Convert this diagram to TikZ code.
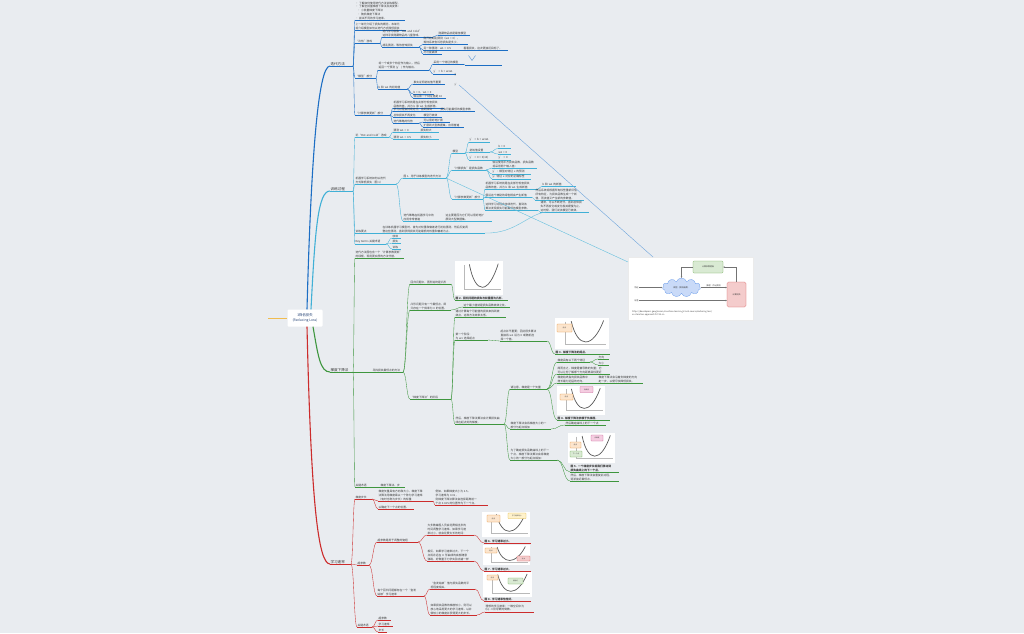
\documentclass[tikz,border=0pt]{standalone}
\usepackage{fontspec}
\setmainfont{Noto Sans CJK SC}
\newfontfamily\dejavu{DejaVu Sans}
\XeTeXlinebreaklocale "zh"
\XeTeXlinebreakskip=0pt plus 0.5pt
\usetikzlibrary{calc,shapes.symbols,arrows.meta}
\definecolor{bgc}{RGB}{233,236,240}
\definecolor{txt}{RGB}{55,55,55}
\definecolor{cb}{RGB}{28,110,196}
\definecolor{ct}{RGB}{64,176,214}
\definecolor{cg}{RGB}{62,150,62}
\definecolor{cr}{RGB}{204,44,44}
\definecolor{co}{RGB}{240,188,80}
\definecolor{rootc}{RGB}{40,70,120}
\definecolor{relb}{RGB}{110,165,220}
\definecolor{orF}{RGB}{252,229,205}\definecolor{orD}{RGB}{230,145,56}
\definecolor{pkF}{RGB}{245,205,225}\definecolor{pkD}{RGB}{200,100,150}
\definecolor{gnF}{RGB}{217,234,211}\definecolor{gnD}{RGB}{106,168,79}
\definecolor{ylF}{RGB}{255,242,204}\definecolor{ylD}{RGB}{220,180,60}
\definecolor{rdF}{RGB}{244,204,204}\definecolor{rdD}{RGB}{214,90,90}
\definecolor{clF}{RGB}{201,218,248}\definecolor{clD}{RGB}{109,158,235}
\tikzset{
 mm/.style={anchor=south west, inner xsep=0.3pt, inner ysep=0.5pt, align=left,
   font=\fontsize{2.75}{3.75}\selectfont, text=txt},
 ul/.style={line width=.35pt},
 cn/.style={line width=.35pt},
 mainline/.style={line width=1.1pt},
 labul/.style={line width=.8pt},
 rel/.style={line width=.4pt},
 tagO/.style={fill=orF, draw=orD, line width=.2pt, rounded corners=.4pt},
 tagP/.style={fill=pkF, draw=pkD, line width=.2pt, rounded corners=.4pt},
 tagG/.style={fill=gnF, draw=gnD, line width=.2pt, rounded corners=.4pt},
 tagY/.style={fill=ylF, draw=ylD, line width=.2pt, rounded corners=.4pt},
 tagR/.style={fill=rdF, draw=rdD, line width=.2pt, rounded corners=.4pt},
 imgarrow/.style={draw=black!55, line width=.35pt, -{Stealth[length=1.6pt,width=1.4pt]}},
 imgtxt/.style={font=\fontsize{2}{2.4}\selectfont, text=txt, inner sep=0.3pt},
}
\newcommand\labfont{\fontsize{3.6}{4.2}\selectfont}
\newcommand\mmnode[6]{\node[mm, text width=#5pt] (#1) at (#3,#4) {#6};
  \draw[ul, #2] (#1.south west) -- (#1.south east);}
\newcommand\mmlabel[6]{\node[mm, text width=#5pt, font=\labfont] (#1) at (#3,#4) {#6};
  \draw[labul, #2] (#1.south west) -- (#1.south east);}
\newcommand\mmlink[3]{\draw[cn, #1] let \p1=(#2.south east), \p2=(#3.south west), \n1={0.5*(\x2-\x1)} in (\p1) .. controls +(\n1,0) and +(-\n1,0) .. (\p2);}
\newcommand\lossplot[4]{%
 \begin{scope}[shift={(#1,#2)}]
  \fill[white] (0,0) rectangle (#3,#4);
  \draw[gray!55,line width=.2pt] (0.18*#3,0.12*#4) -- (0.18*#3,0.84*#4) -- (0.95*#3,0.84*#4);
  \draw[black!65,line width=.7pt] (0.3*#3,0.1*#4) .. controls (0.42*#3,1.0*#4) and (0.7*#3,1.0*#4) .. (0.9*#3,0.08*#4);
 \end{scope}}
\newcommand\tagbox[6]{\draw[#5] (#1,#2) rectangle (#3,#4);
  \node[font=\fontsize{1.6}{2}\selectfont, text=txt, inner sep=0] at ({(#1+#3)/2},{(#2+#4)/2}) {#6};}
\begin{document}
\begin{tikzpicture}[x=1pt,y=-1pt]
\useasboundingbox (0,0) rectangle (1024,633);
\fill[bgc] (0,0) rectangle (1024,633);

% ---------- root ----------
\node[fill=white, rounded corners=1pt, minimum width=35pt, minimum height=17pt, align=center,
  font=\fontsize{3.4}{4.6}\selectfont, text=rootc, inner sep=0.5pt] (root) at (305,318) {3降低损失\\(Reducing Loss)};
\coordinate (rp) at (268,318);
\draw[co, line width=1pt] (rp) -- (root.west);

% ---------- main labels ----------
\mmlabel{bl}{cb}{330}{66}{22}{迭代方法}
\mmlabel{tl}{ct}{330}{191}{22}{训练过程}
\mmlabel{gl}{cg}{330}{372}{22}{梯度下降法}
\mmlabel{rl}{cr}{330}{564}{20}{学习速率}
\draw[mainline, cb] ([xshift=2pt]root.north) .. controls (311,160) and (318,66) .. (bl.south west);
\draw[mainline, ct] ([xshift=6pt]root.north) .. controls (315,230) and (318,191) .. (tl.south west);
\draw[mainline, cg] ([xshift=8pt]root.south) .. controls (318,355) and (320,372) .. (gl.south west);
\draw[mainline, cr] ([xshift=2pt]root.south) .. controls (311,500) and (318,564) .. (rl.south west);

% ---------- BLUE ----------
\mmnode{b1}{cb}{355}{20}{49}{• 了解如何使用迭代方法训练模型。\\• 了解全批量梯度下降法及其变体：\\\hspace{2pt}• 小批量梯度下降法\\\hspace{2pt}• 随机梯度下降法\\• 尝试不同的学习速率。}
\mmnode{b2}{cb}{355}{30}{50}{上一单元介绍了损失的概念，本单元\\将介绍模型如何以迭代方式降低损失}
\mmnode{b3}{cb}{355}{43}{24}{“冷热”游戏}
\mmnode{b3a}{cb}{382}{37}{50}{迭代学习就像“Hot and Cold”\\这种寻找隐藏物品的儿童游戏。}
\mmnode{b3a1}{cb}{438}{35}{31}{隐藏物品就是最佳模型}
\mmnode{b3b}{cb}{382}{47}{36}{胡乱猜测，等待告知损失}
\mmnode{b3b1}{cb}{423}{44}{44}{刚开始胡乱猜测（w1 = 0），\\等待系统告诉您损失是多少。}
\mmnode{b3b2}{cb}{423}{50}{34}{另一种猜测：w1 = 0.5}
\mmnode{b3b2a}{cb}{463}{50}{44}{看看损失，这次更接近目标了。}
\mmnode{b3b3}{cb}{423}{54}{18}{尽可能高效}
\mmnode{b4}{cb}{355}{78}{20}{“模型”部分}
\mmnode{b4a}{cb}{378}{70}{50}{将一个或多个特征作为输入，然后\\返回一个预测 (y') 作为输出。}
\mmnode{b4a1}{cb}{433}{64}{30}{采用一个特征的模型}
\mmnode{chev}{cb}{465}{65}{36}{}
\draw[cb!70, line width=.45pt] (468.5,55.5) -- (472,60.5) -- (475.5,55.5);
\mmnode{b4a2}{cb}{433}{74}{22}{y' = b + w1x1}
\node[mm, font=\dejavu\fontsize{2.6}{3}\selectfont] (yg1) at (454,77) {ŷ};
\node[mm, font=\fontsize{2.6}{3}\selectfont] (yg2) at (454,87) {y'};
\mmnode{b4b}{cb}{378}{89}{28}{b 和 w1 的初始值}
\mmnode{b4b1}{cb}{413}{84}{31}{事实证明初始值不重要}
\mmnode{b4b2}{cb}{413}{94}{20}{b = 0，w1 = 0}
\mmnode{b4b3}{cb}{413}{98}{32}{假设第一个特征值是 10}
\mmnode{b5}{cb}{355}{115}{34}{“计算参数更新”部分}
\mmnode{b5a}{cb}{393}{108}{50}{机器学习系统就是在此部分检查损失\\函数的值，并为 b 和 w1 生成新值。}
\mmnode{b5b}{cb}{393}{111}{44}{学习过程会持续迭代，直到找到}
\mmnode{b5b1}{cb}{440}{111}{34}{损失可能最低的模型参数}
\mmnode{b5c}{cb}{393}{117}{25}{总体损失不再变化}
\mmnode{b5c1}{cb}{423}{117}{18}{模型已收敛}
\mmnode{b5d}{cb}{393}{123}{25}{迭代策略的优势}
\mmnode{b5d1}{cb}{423}{122}{26}{可以很好地扩展}
\mmnode{b5d2}{cb}{423}{127}{40}{扩展到大型数据集，应用普遍}
\foreach \c in {b1,b2,b3,b4,b5} {\mmlink{cb}{bl}{\c}}
\mmlink{cb}{b3}{b3a}\mmlink{cb}{b3}{b3b}\mmlink{cb}{b3a}{b3a1}
\mmlink{cb}{b3b}{b3b1}\mmlink{cb}{b3b}{b3b2}\mmlink{cb}{b3b}{b3b3}\mmlink{cb}{b3b2}{b3b2a}
\mmlink{cb}{b4}{b4a}\mmlink{cb}{b4}{b4b}\mmlink{cb}{b4a}{b4a1}\mmlink{cb}{b4a}{b4a2}\mmlink{cb}{b4a1}{chev}
\mmlink{cb}{b4b}{b4b1}\mmlink{cb}{b4b}{b4b2}\mmlink{cb}{b4b}{b4b3}
\mmlink{cb}{b5}{b5a}\mmlink{cb}{b5}{b5b}\mmlink{cb}{b5}{b5c}\mmlink{cb}{b5}{b5d}
\mmlink{cb}{b5b}{b5b1}\mmlink{cb}{b5c}{b5c1}\mmlink{cb}{b5d}{b5d1}\mmlink{cb}{b5d}{b5d2}

% ---------- TEAL ----------
\mmnode{t1}{ct}{355}{137}{33}{玩“Hot and Cold”游戏}
\mmnode{t1a}{ct}{393}{132}{22}{猜测 w1 = 0}
\mmnode{t1a1}{ct}{420}{132}{18}{损失较大}
\mmnode{t1b}{ct}{393}{139}{22}{猜测 w1 = 0.5}
\mmnode{t1b1}{ct}{420}{139}{18}{损失较小}
\mmnode{t2}{ct}{355}{184}{40}{机器学习系统如何以迭代\\方式降低损失（图 1）}
\mmnode{t2a}{ct}{403}{178}{42}{图 1. 用于训练模型的迭代方法}
\mmnode{t2a1}{ct}{452}{153}{12}{模型}
\mmnode{t2a1a}{ct}{469}{142}{20}{y' = b + w1x1}
\mmnode{t2a1b}{ct}{469}{152}{20}{初始值设置}
\mmnode{t2a1b1}{ct}{498}{148.5}{12}{b = 0}
\mmnode{t2a1b2}{ct}{498}{154}{12}{w1 = 0}
\mmnode{t2a1c}{ct}{469}{160}{22}{y' = 0 + 0(10)}
\mmnode{t2a1c1}{ct}{498}{160}{12}{y' = 0}
\mmnode{t2a2}{ct}{452}{170}{33}{“计算损失”是损失函数}
\mmnode{t2a2a}{ct}{492}{168}{44}{假设使用平方损失函数，损失函数\\将采用两个输入值：}
\mmnode{t2a2b}{ct}{492}{174}{38}{y'：模型对特征 x 的预测}
\mmnode{t2a2c}{ct}{492}{179}{38}{y：特征 x 对应的正确标签}
\mmnode{t2a3}{ct}{452}{199}{30}{“计算参数更新”部分}
\mmnode{t2a3a}{ct}{485}{189}{52}{机器学习系统就是在此部分检查损失\\函数的值，并为 b 和 w1 生成新值}
\mmnode{t2a3a1}{ct}{542}{186}{33}{b 和 w1 的新值}
\mmnode{t2a3b}{ct}{485}{197}{46}{假设这个神秘的绿色框会产生新值}
\mmnode{t2a3b1}{ct}{535}{200}{48}{然后系统将根据所有标签重新评估\\所有特征，为损失函数生成一个新\\值，而该值又产生新的参数值。}
\mmnode{t2a3c}{ct}{485}{210}{52}{这种学习过程会持续迭代，直到该\\算法发现损失可能最低的模型参数。}
\mmnode{t2a3c1}{ct}{540}{212}{48}{通常，可以不断迭代，直到总体损\\失不再变化或变化极其缓慢为止。\\这时候，我们说该模型已收敛。}
\mmnode{t2b}{ct}{403}{221}{38}{迭代策略在机器学习中的\\应用非常普遍}
\mmnode{t2b1}{ct}{445}{221}{46}{这主要是因为它们可以很好地扩\\展到大型数据集。}
\mmnode{t3}{ct}{355}{233}{24}{训练要点}
\mmnode{t3a}{ct}{382}{233}{102}{在训练机器学习模型时，首先对权重和偏差进行初始猜测，然后反复调\\整这些猜测，直到获得损失可能最低的权重和偏差为止。}
\mmnode{t4}{ct}{355}{244}{30}{Key terms 关键术语}
\mmnode{t4a}{ct}{392}{238}{8}{收敛}
\mmnode{t4b}{ct}{392}{243.5}{8}{损失}
\mmnode{t4c}{ct}{392}{249}{8}{训练}
\foreach \c in {t1,t2,t3,t4} {\mmlink{ct}{tl}{\c}}
\mmlink{ct}{t1}{t1a}\mmlink{ct}{t1}{t1b}\mmlink{ct}{t1a}{t1a1}\mmlink{ct}{t1b}{t1b1}
\mmlink{ct}{t2}{t2a}\mmlink{ct}{t2}{t2b}\mmlink{ct}{t2b}{t2b1}
\mmlink{ct}{t2a}{t2a1}\mmlink{ct}{t2a}{t2a2}\mmlink{ct}{t2a}{t2a3}
\mmlink{ct}{t2a1}{t2a1a}\mmlink{ct}{t2a1}{t2a1b}\mmlink{ct}{t2a1}{t2a1c}
\mmlink{ct}{t2a1b}{t2a1b1}\mmlink{ct}{t2a1b}{t2a1b2}\mmlink{ct}{t2a1c}{t2a1c1}
\mmlink{ct}{t2a2}{t2a2a}\mmlink{ct}{t2a2}{t2a2b}\mmlink{ct}{t2a2}{t2a2c}
\mmlink{ct}{t2a3}{t2a3a}\mmlink{ct}{t2a3}{t2a3b}\mmlink{ct}{t2a3}{t2a3c}
\mmlink{ct}{t2a3a}{t2a3a1}\mmlink{ct}{t2a3b}{t2a3b1}\mmlink{ct}{t2a3c}{t2a3c1}
\mmlink{ct}{t3}{t3a}
\mmlink{ct}{t4}{t4a}\mmlink{ct}{t4}{t4b}\mmlink{ct}{t4}{t4c}

% ---------- GREEN ----------
\mmnode{g1}{cg}{355}{258}{48}{迭代方法图包含一个“计算参数更新”\\的绿框，现用更实质的方法代替。}
\mmnode{g2}{cg}{372}{372}{30}{寻找损失最低点的方法}
\mmnode{g2a}{cg}{410}{284}{40}{回归问题中，图形始终是凸形}
\lossplot{455}{261}{48}{34}
\mmnode{g2a1}{cg}{455}{300}{52}{\bfseries 图 2. 回归问题的损失与权重图为凸形。}
\mmnode{g2b}{cg}{410}{310}{40}{凸形问题只有一个最低点，即\\只存在一个斜率为 0 的位置。}
\mmnode{g2b1}{cg}{463}{307}{46}{这个最小值就是损失函数收敛之处。}
\mmnode{g2c}{cg}{410}{399}{40}{“梯度下降法”的阶段}
\mmnode{g2c1}{cg}{455}{317}{50}{通过计算每个可能值的损失来找到收\\敛点，这种方法效率太低。}
\mmnode{g2c2}{cg}{455}{340}{32}{第一个阶段：\\为 w1 选择起点}
\mmnode{g2c2a}{cg}{500}{341}{46}{起点并不重要；因此很多算法\\直接将 w1 设为 0 或随机选\\择一个值。}
\lossplot{555}{318}{54}{31}
\tagbox{557}{324}{572}{332}{tagO}{起点}
\mmnode{g2c2a1}{cg}{555}{354}{54}{\bfseries 图 3. 梯度下降法的起点。}
\mmnode{g2c3}{cg}{455}{424}{48}{然后，梯度下降法算法会计算损失曲\\线在起点处的梯度。}
\mmnode{g2c3a}{cg}{510}{389}{36}{请注意，梯度是一个矢量}
\mmnode{g2c3a1}{cg}{557}{362}{32}{梯度具有以下两个特征}
\mmnode{g2c3a1a}{cg}{598}{359}{10}{方向}
\mmnode{g2c3a1b}{cg}{598}{365}{10}{大小}
\mmnode{g2c3a2}{cg}{557}{374}{52}{简而言之，梯度是偏导数的矢量；它\\可以让您了解哪个方向距离目标更近}
\mmnode{g2c3a3}{cg}{557}{383}{36}{梯度始终指向损失函数中\\增长最为迅猛的方向。}
\mmnode{g2c3a3a}{cg}{598}{383}{44}{梯度下降法会沿着负梯度的方向\\走一步，以便尽快降低损失。}
\lossplot{557}{386}{48}{29}
\tagbox{580}{386.5}{593}{392.5}{tagP}{负梯度}
\tagbox{560}{394}{573}{400}{tagO}{起点}
\mmnode{g2c3a4}{cg}{557}{420}{52}{\bfseries 图 4. 梯度下降法依赖于负梯度。}
\mmnode{g2c3b}{cg}{510}{429}{40}{梯度下降法会将梯度大小的一\\部分与起点相加}
\mmnode{g2c3b1}{cg}{565}{425}{40}{然后确定曲线上的下一个点}
\mmnode{g2c3c}{cg}{510}{460}{46}{为了确定损失函数曲线上的下一\\个点，梯度下降法算法会将梯度\\大小的一部分与起点相加：}
\lossplot{568}{433}{47}{30}
\tagbox{591}{435}{603}{441}{tagP}{负梯度}
\tagbox{570}{442}{581}{448}{tagO}{起点}
\tagbox{570}{451}{582}{457}{tagG}{下一个点}
\mmnode{g2c3c1}{cg}{570}{472}{48}{\bfseries 图 5. 一个梯度步长将我们移动到\\损失曲线上的下一个点。}
\mmnode{g2c3c2}{cg}{570}{481}{48}{然后，梯度下降法会重复此过程，\\逐渐接近最低点。}
\mmnode{g3}{cg}{355}{487}{18}{关键术语}
\mmnode{g3a}{cg}{380}{487}{24}{梯度下降法、步}
\mmlink{cg}{gl}{g1}\mmlink{cg}{gl}{g2}\mmlink{cg}{gl}{g3}\mmlink{cg}{g3}{g3a}
\mmlink{cg}{g2}{g2a}\mmlink{cg}{g2}{g2b}\mmlink{cg}{g2}{g2c}
\mmlink{cg}{g2a}{g2a1}\mmlink{cg}{g2b}{g2b1}
\mmlink{cg}{g2c}{g2c1}\mmlink{cg}{g2c}{g2c2}\mmlink{cg}{g2c}{g2c3}
\mmlink{cg}{g2c2}{g2c2a}\mmlink{cg}{g2c2a}{g2c2a1}
\mmlink{cg}{g2c3}{g2c3a}\mmlink{cg}{g2c3}{g2c3b}\mmlink{cg}{g2c3}{g2c3c}
\mmlink{cg}{g2c3a}{g2c3a1}\mmlink{cg}{g2c3a}{g2c3a2}\mmlink{cg}{g2c3a}{g2c3a3}\mmlink{cg}{g2c3a}{g2c3a4}
\mmlink{cg}{g2c3a1}{g2c3a1a}\mmlink{cg}{g2c3a1}{g2c3a1b}\mmlink{cg}{g2c3a3}{g2c3a3a}
\mmlink{cg}{g2c3b}{g2c3b1}\mmlink{cg}{g2c3c}{g2c3c1}\mmlink{cg}{g2c3c}{g2c3c2}

% ---------- RED ----------
\mmnode{r1}{cr}{355}{499}{16}{梯度步长}
\mmnode{r1a}{cr}{378}{501}{54}{梯度矢量具有方向和大小。梯度下降\\法算法用梯度乘以一个称为学习速率\\（有时也称为步长）的标量}
\mmnode{r1a1}{cr}{435}{505}{52}{例如，如果梯度大小为 2.5，\\学习速率为 0.01，\\则梯度下降法算法会选择距离前一\\个点 0.025 的位置作为下一个点。}
\mmnode{r1b}{cr}{378}{509}{35}{以确定下一个点的位置。}
\mmnode{r2}{cr}{357}{565}{11}{超参数}
\mmnode{r2a}{cr}{377}{542}{40}{超参数是用于调整的旋钮}
\mmnode{r2a1}{cr}{427}{535}{46}{大多数编程人员会花费相当多的\\时间调整学习速率。如果学习速\\率过小，就会花费太长的时间：}
\lossplot{482}{512}{48}{25}
\tagbox{487}{515}{500}{522}{tagO}{起点}
\tagbox{508}{513}{526}{518.5}{tagY}{学习速率过小}
\mmnode{r2a1a}{cr}{484}{543}{46}{\bfseries 图 6. 学习速率过小。}
\mmnode{r2a2}{cr}{427}{561}{46}{相反，如果学习速率过大，下一个\\点将永远在 U 形曲线的底部随意\\弹跳，好像量子力学实验出错一样}
\lossplot{483}{545}{47}{20}
\tagbox{485}{548}{497}{553}{tagO}{起点}
\tagbox{517}{556}{530}{561}{tagR}{过大}
\mmnode{r2a2a}{cr}{484}{571}{46}{\bfseries 图 7. 学习速率过大。}
\mmnode{r2b}{cr}{377}{596}{46}{每个回归问题都存在一个“金发\\姑娘”学习速率}
\mmnode{r2b1}{cr}{430}{589}{44}{“金发姑娘”值与损失函数的平\\坦程度相关。}
\lossplot{483}{572}{49}{25}
\tagbox{487}{575}{498}{580}{tagO}{起点}
\tagbox{508}{578}{523}{584}{tagG}{恰恰好}
\mmnode{r2b1a}{cr}{484}{601}{46}{\bfseries 图 8. 学习速率恰恰好。}
\mmnode{r2b2}{cr}{430}{615}{46}{如果损失函数的梯度较小，则可以\\放心地采用更大的学习速率，以补\\偿较小的梯度并获得更大的步长。}
\mmnode{r2b2a}{cr}{485}{612}{48}{理想的学习速率：一维空间中为\\f(x) 二阶导数的倒数。}
\mmnode{r3}{cr}{357}{627}{14}{关键术语}
\mmnode{r3a}{cr}{378}{620}{12}{超参数}
\mmnode{r3b}{cr}{378}{626}{14}{学习速率}
\mmnode{r3c}{cr}{378}{632}{8}{步长}
\mmlink{cr}{rl}{r1}\mmlink{cr}{rl}{r2}\mmlink{cr}{rl}{r3}
\mmlink{cr}{r1}{r1a}\mmlink{cr}{r1}{r1b}\mmlink{cr}{r1a}{r1a1}
\mmlink{cr}{r2}{r2a}\mmlink{cr}{r2}{r2b}
\mmlink{cr}{r2a}{r2a1}\mmlink{cr}{r2a}{r2a2}\mmlink{cr}{r2a1}{r2a1a}\mmlink{cr}{r2a2}{r2a2a}
\mmlink{cr}{r2b}{r2b1}\mmlink{cr}{r2b}{r2b2}\mmlink{cr}{r2b1}{r2b1a}\mmlink{cr}{r2b2}{r2b2a}
\mmlink{cr}{r3}{r3a}\mmlink{cr}{r3}{r3b}\mmlink{cr}{r3}{r3c}

% ---------- figure 1 (iterative approach) ----------
\node[fill=white, draw=black!8, line width=.2pt, anchor=north west, minimum width=125pt, minimum height=63pt, inner sep=0] (img1) at (628,257) {};
\node[fill=gnF, draw=gnD, line width=.3pt, rounded corners=1pt, minimum width=30pt, minimum height=12pt, inner sep=0, imgtxt] (upd) at (708,267) {计算参数更新};
\node[cloud, cloud puffs=11, aspect=2.2, fill=clF, draw=clD, line width=.3pt, minimum width=38pt, minimum height=19pt, inner sep=0, imgtxt] (cloud) at (681.5,287.5) {模型（预测函数）};
\node[fill=rdF, draw=rdD, line width=.3pt, rounded corners=1.5pt, minimum width=19pt, minimum height=25pt, inner sep=0, imgtxt] (loss) at (736.5,294.5) {计算损失};
\node[imgtxt, anchor=west] (feat) at (634,287.5) {特征};
\node[imgtxt, anchor=west] (lab) at (634,300.5) {标签};
\draw[imgarrow] (feat.east) -- (cloud.west |- feat.east);
\draw[imgarrow] (lab.east) -- (loss.west |- lab.east);
\draw[imgarrow] (cloud.east |- feat.east) -- node[imgtxt, above=0.3pt] {推理：作出预测} (loss.west |- feat.east);
\draw[imgarrow] (loss.north) |- (upd.east);
\draw[imgarrow] (upd.west) -| (cloud.north);
\node[anchor=north west, align=left, font=\fontsize{2.2}{2.8}\selectfont, text=black!70, inner sep=0] (url) at (632,310.5) {https://developers.google.com/machine-learning/crash-course/reducing-loss/\\an-iterative-approach?hl=zh-cn};

% ---------- relationship lines ----------
\draw[rel, relb] (yg2.east) -- ([xshift=25pt]img1.north west);
\draw[rel, ct!80] (t2a.south east) -- ([yshift=-5pt]img1.north west);
\draw[rel, ct!80] (t3a.south east) .. controls (515,234) and (528,214) .. ([xshift=6pt]t2a3c1.south west);
\end{tikzpicture}
\end{document}
